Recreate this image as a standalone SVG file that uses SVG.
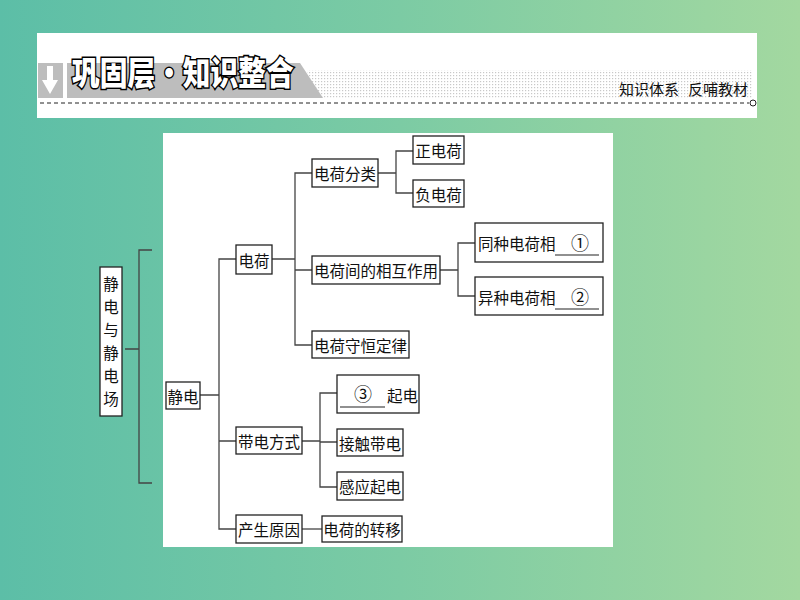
<svg xmlns="http://www.w3.org/2000/svg" width="800" height="600" viewBox="0 0 800 600">
<defs>
<linearGradient id="bg" x1="0" y1="0" x2="1" y2="0">
<stop offset="0" stop-color="#5cbea7"/>
<stop offset="0.5" stop-color="#7ccba4"/>
<stop offset="1" stop-color="#a3d8a0"/>
</linearGradient>
<pattern id="dots" width="3" height="3" patternUnits="userSpaceOnUse">
<rect x="0" y="0" width="1.2" height="1.2" fill="#c8c8c8"/>
</pattern>
<style>
.box{fill:#fff;stroke:#222;stroke-width:1.3}
.t{font-family:"Noto Sans CJK SC","Noto Sans",sans-serif;font-size:15.5px;fill:#111;dominant-baseline:central}
.n{font-family:"Noto Sans CJK SC","Noto Sans",sans-serif;font-size:18px;fill:#111;dominant-baseline:central}
.h{font-family:"Noto Sans CJK SC",sans-serif;font-size:15px;fill:#111;dominant-baseline:central}
.ln{stroke:#444;stroke-width:1.3;fill:none}
.ul{stroke:#222;stroke-width:1.2}
</style>
</defs>
<rect width="800" height="600" fill="url(#bg)"/>
<g id="header">
<rect x="37" y="33" width="720" height="85" fill="#fff"/>
<rect x="307" y="70" width="445" height="28" fill="url(#dots)"/>
<polygon points="67,63 300,63 323,98 67,98" fill="#bdbdbd"/>
<rect x="38" y="63" width="25" height="35" fill="#bdbdbd"/>
<polygon points="47,66 53,66 53,80 58,80 50,94 42,80 47,80" fill="#fff"/>
<text transform="translate(72,71) scale(0.84,1)" x="0" y="0" style="font-family:'Noto Sans CJK SC',sans-serif;font-size:33px;font-weight:900;fill:#fff;stroke:#000;stroke-width:3;paint-order:stroke;dominant-baseline:central">巩固层·知识整合</text>
<text class="h" x="619" y="88">知识体系</text>
<text class="h" x="688" y="88">反哺教材</text>
<line x1="40" y1="103" x2="749" y2="103" stroke="#222" stroke-width="1" stroke-dasharray="4,3"/>
<circle cx="753" cy="103" r="3" fill="#fff" stroke="#222" stroke-width="1"/>
</g>
<rect x="163" y="133" width="450" height="414" fill="#fff"/>
<g id="connectors">
<path class="ln" d="M125,349 H139 M152,250 H139 V483 H152"/>
<path class="ln" d="M200,395 H219 M236,259 H219 V529 H236 M219,441 H236"/>
<path class="ln" d="M272,259 H295 M312,173 H295 V345 H312 M295,270 H312"/>
<path class="ln" d="M378,173 H396 M413,151 H396 V193 H413"/>
<path class="ln" d="M440,270 H458 M475,243 H458 V296 H475"/>
<path class="ln" d="M302,441 H320 M337,393 H320 V487 H337 M320,442 H337"/>
<path class="ln" d="M302,529 H322"/>
</g>
<g id="n_root">
<rect class="box" x="100" y="267" width="22" height="149"/>
<text class="t" x="111" y="283" text-anchor="middle">静</text>
<text class="t" x="111" y="306" text-anchor="middle">电</text>
<text class="t" x="111" y="329" text-anchor="middle">与</text>
<text class="t" x="111" y="352" text-anchor="middle">静</text>
<text class="t" x="111" y="375" text-anchor="middle">电</text>
<text class="t" x="111" y="398" text-anchor="middle">场</text>
</g>
<g id="n_jingdian"><rect class="box" x="166" y="382" width="34" height="27"/><text class="t" x="183" y="395.5" text-anchor="middle">静电</text></g>
<g id="n_dianhe"><rect class="box" x="236" y="245" width="36" height="29"/><text class="t" x="254" y="259.5" text-anchor="middle">电荷</text></g>
<g id="n_fenlei"><rect class="box" x="312" y="159" width="66" height="28"/><text class="t" x="345" y="173" text-anchor="middle">电荷分类</text></g>
<g id="n_zheng"><rect class="box" x="413" y="136" width="51" height="28"/><text class="t" x="438.5" y="150" text-anchor="middle">正电荷</text></g>
<g id="n_fu"><rect class="box" x="413" y="180" width="51" height="27"/><text class="t" x="438.5" y="193.5" text-anchor="middle">负电荷</text></g>
<g id="n_xianghu"><rect class="box" x="312" y="256" width="128" height="28"/><text class="t" x="376" y="270" text-anchor="middle">电荷间的相互作用</text></g>
<g id="n_tong"><rect class="box" x="475" y="223" width="128" height="39"/><text class="t" x="478" y="243">同种电荷相</text><line class="ul" x1="555" y1="255" x2="599" y2="255"/><text class="n" x="580" y="242" text-anchor="middle">①</text></g>
<g id="n_yi"><rect class="box" x="475" y="277" width="128" height="38"/><text class="t" x="478" y="297">异种电荷相</text><line class="ul" x1="555" y1="309" x2="599" y2="309"/><text class="n" x="580" y="296" text-anchor="middle">②</text></g>
<g id="n_shouheng"><rect class="box" x="312" y="331" width="97" height="27"/><text class="t" x="360.5" y="344.5" text-anchor="middle">电荷守恒定律</text></g>
<g id="n_fangshi"><rect class="box" x="236" y="427" width="66" height="27"/><text class="t" x="269" y="440.5" text-anchor="middle">带电方式</text></g>
<g id="n_qidian"><rect class="box" x="337" y="375" width="82" height="38"/><line class="ul" x1="340" y1="407" x2="385" y2="407"/><text class="n" x="363" y="393" text-anchor="middle">③</text><text class="t" x="387" y="395">起电</text></g>
<g id="n_jiechu"><rect class="box" x="337" y="429" width="66" height="27"/><text class="t" x="370" y="442.5" text-anchor="middle">接触带电</text></g>
<g id="n_ganying"><rect class="box" x="337" y="472" width="66" height="28"/><text class="t" x="370" y="486" text-anchor="middle">感应起电</text></g>
<g id="n_yuanyin"><rect class="box" x="236" y="515" width="66" height="28"/><text class="t" x="269" y="529" text-anchor="middle">产生原因</text></g>
<g id="n_zhuanyi"><rect class="box" x="322" y="516" width="80" height="26"/><text class="t" x="362" y="529" text-anchor="middle">电荷的转移</text></g>
</svg>
